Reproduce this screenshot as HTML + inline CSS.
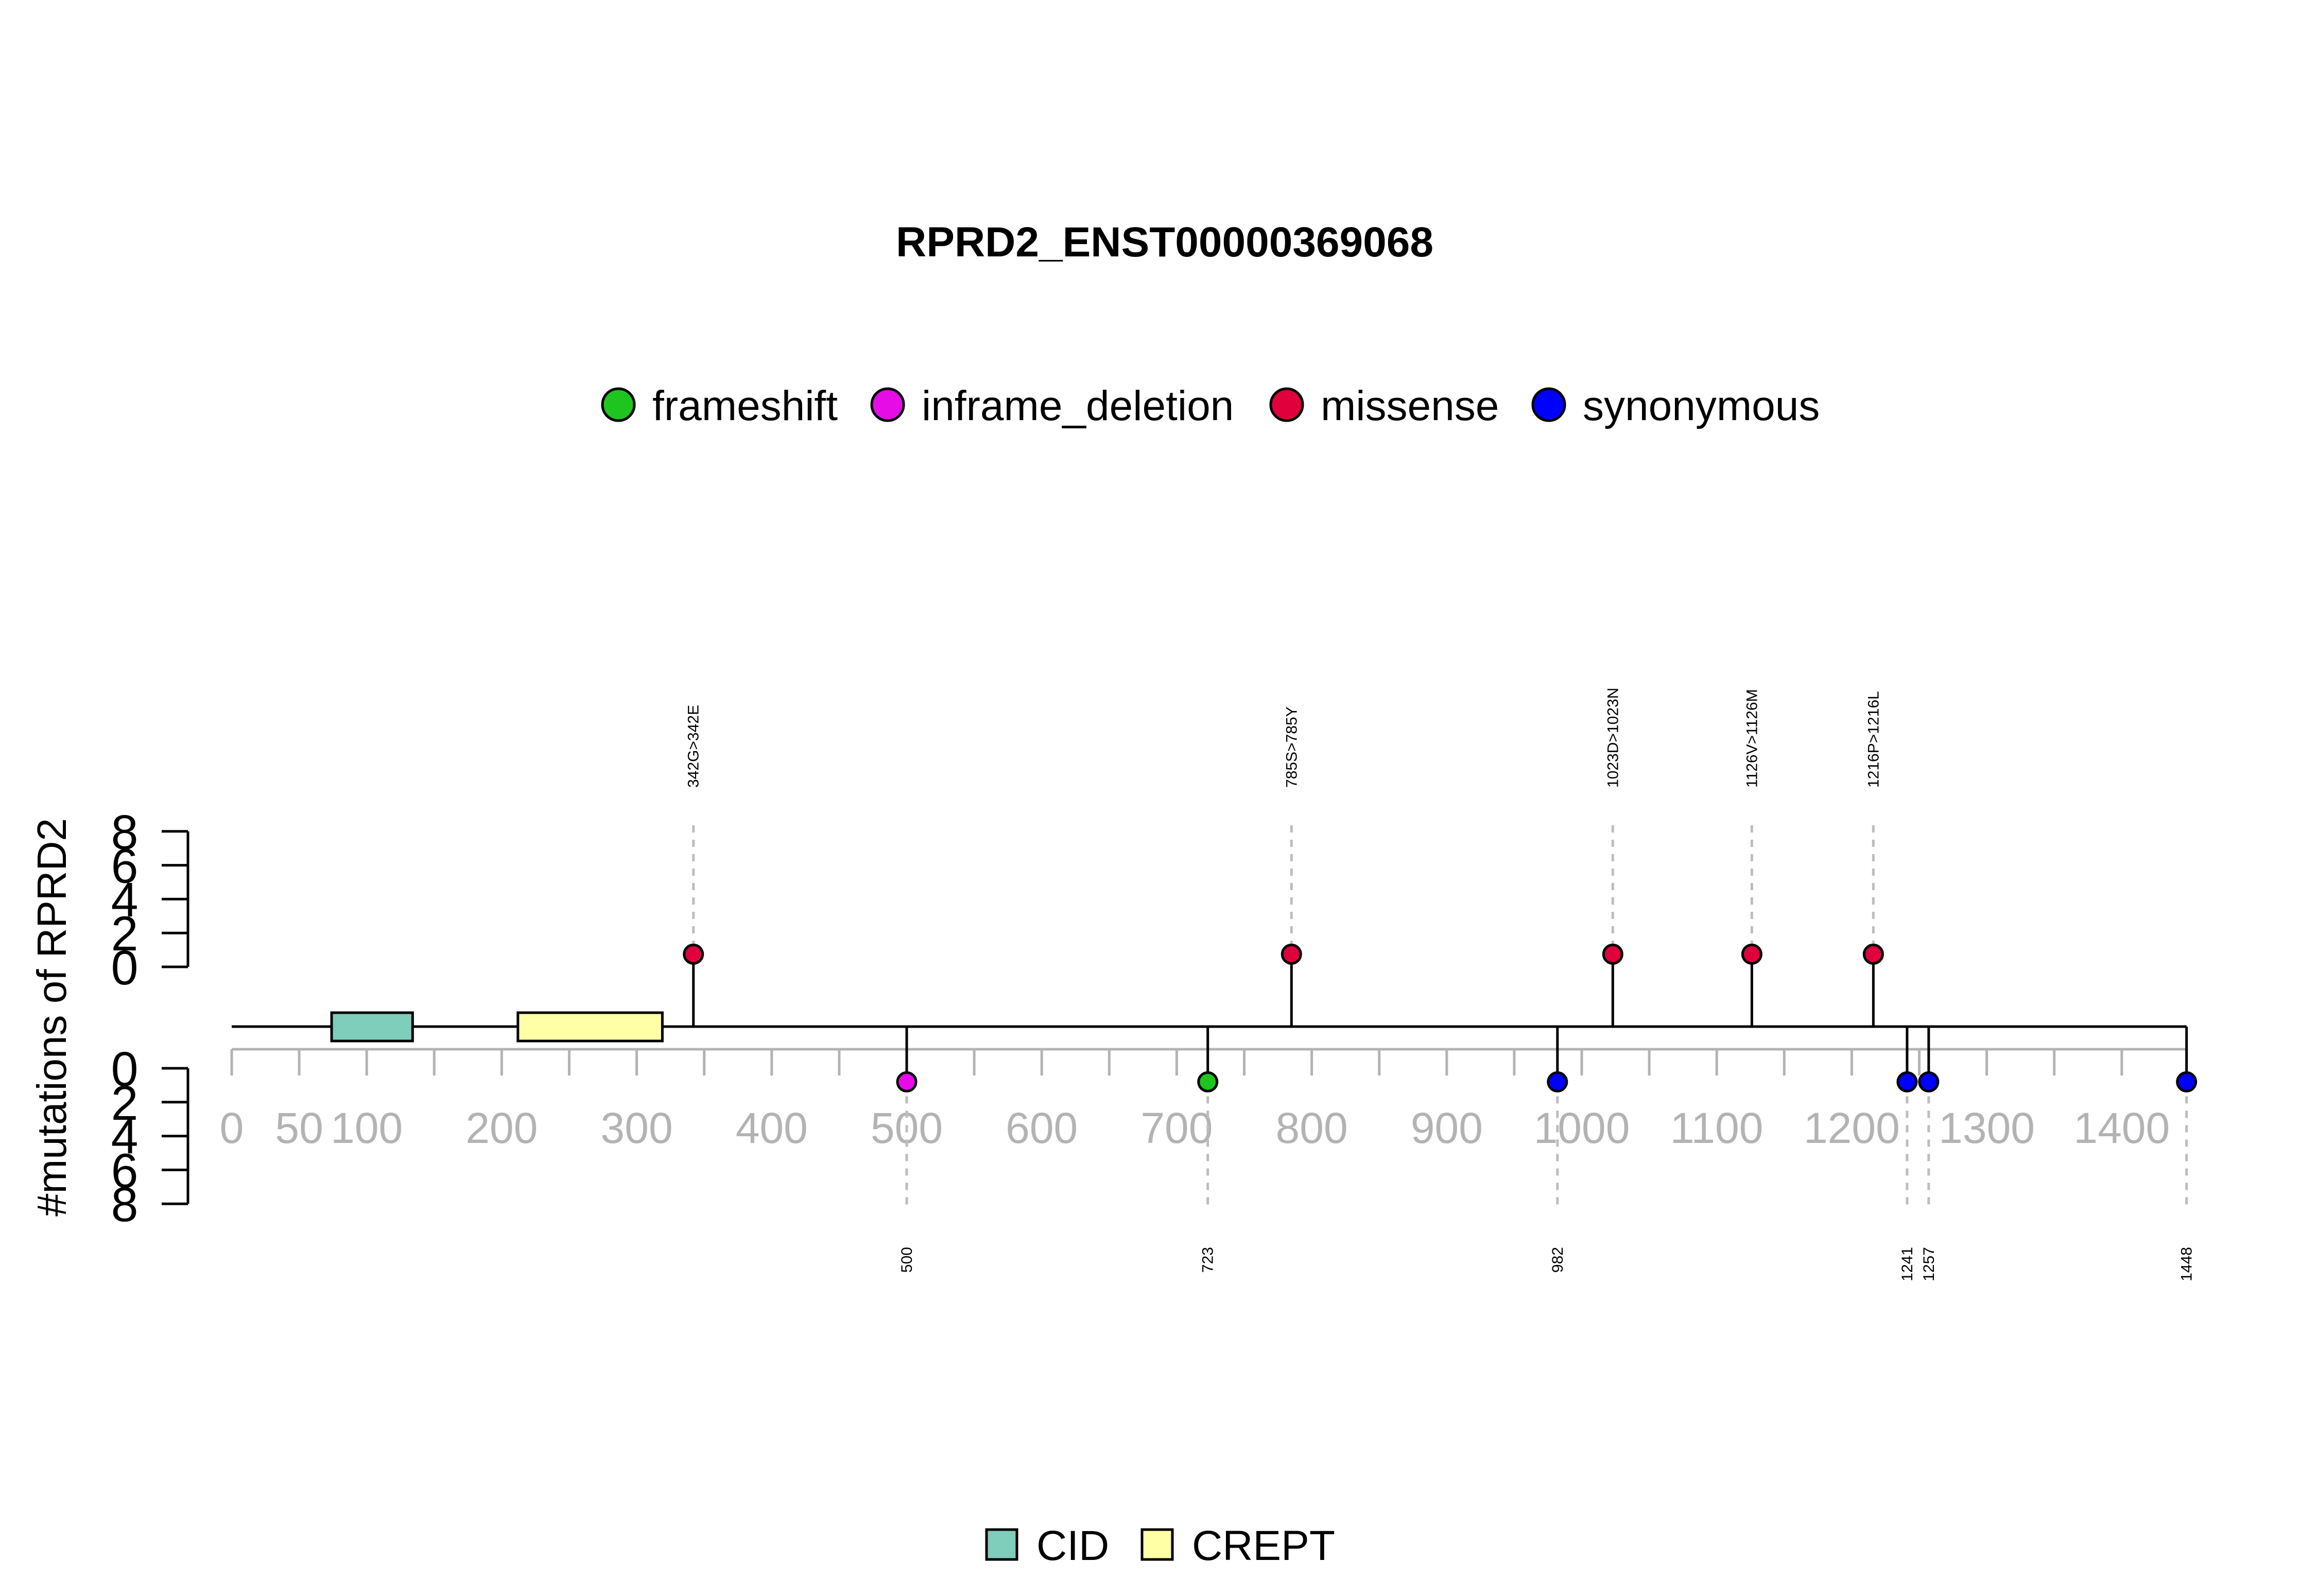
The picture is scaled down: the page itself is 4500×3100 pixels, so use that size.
<!DOCTYPE html>
<html><head><meta charset="utf-8"><style>
html,body{margin:0;padding:0;background:#fff;}
svg{display:block;font-family:"Liberation Sans",Arial,sans-serif;}
</style></head><body>
<svg id="chart" width="4500" height="3100" viewBox="0 0 4500 3100" xmlns="http://www.w3.org/2000/svg">
<rect width="4500" height="3100" fill="#fff"/>
<text x="2262" y="498" font-size="82" font-weight="bold" text-anchor="middle">RPRD2_ENST00000369068</text>
<text x="0" y="0" font-size="80" text-anchor="middle" transform="translate(128,1976) rotate(-90)">#mutations of RPRD2</text>
<g id="legend-top"></g>
<g id="legend-bottom"></g>
<g id="plot"></g>
</svg>
<script>
const positions = [342, 500, 723, 785, 982, 1023, 1126, 1216, 1241, 1257, 1448];
const mutTypes = ["missense","inframe_deletion","frameshift","missense","synonymous","missense","missense","missense","synonymous","synonymous","synonymous"];
const mutCounts = [1,1,1,1,1,1,1,1,1,1,1];
const mutSide = ["up","down","down","up","down","up","up","up","down","down","down"];
const mutLabels = ["342G>342E","500","723","785S>785Y","982","1023D>1023N","1126V>1126M","1216P>1216L","1241","1257","1448"];
const typeNames = ["frameshift","inframe_deletion","missense","synonymous"];
const typeColors = ["#1ec51e","#e60ce6","#e0003c","#0000ff"];
const domainNames = ["CID","CREPT"];
const domainStart = [74, 212];
const domainEnd = [134, 319];
const domainColors = ["#7fcdbb","#ffffa6"];
const proteinLength = 1448;
const xTickValues = [0,50,100,150,200,250,300,350,400,450,500,550,600,650,700,750,800,850,900,950,1000,1050,1100,1150,1200,1250,1300,1350,1400,1448];
const xTickLabels = ["0","50","100","200","300","400","500","600","700","800","900","1000","1100","1200","1300","1400"];
const yTicks = [0,2,4,6,8];

const NS = "http://www.w3.org/2000/svg";
const plot = document.getElementById('plot');
const X0 = 450, PX = 2.622;
const BACK = 1994, UP0 = 1878, LOW0 = 2075, UNIT = 32.9;
function xs(v){ return X0 + v*PX; }
function yUp(v){ return UP0 - v*UNIT*0.75; }
function yLow(v){ return LOW0 + v*UNIT*0.8; }
function yUpAx(v){ return UP0 - v*UNIT; }
function yLowAx(v){ return LOW0 + v*UNIT; }
function mk(tag, attrs, parent){
  const e = document.createElementNS(NS, tag);
  for (const k in attrs) e.setAttribute(k, attrs[k]);
  (parent||plot).appendChild(e);
  return e;
}

let ax = mk('line',{x1:365,x2:365,y1:yUpAx(8),y2:yUpAx(0),stroke:'#000','stroke-width':5});


ax = mk('line',{x1:365,x2:365,y1:yLowAx(0),y2:yLowAx(8),stroke:'#000','stroke-width':5});


yTicks.forEach(t=>{
  [yUpAx(t), yLowAx(t)].forEach((y,i)=>{
    const l = mk('line',{x1:314,x2:365,y1:y,y2:y,stroke:'#000','stroke-width':5});
    
    
    const tx = mk('text',{x:242,y:y+34,'font-size':95,'text-anchor':'middle',fill:'#000'});
    
    
    tx.textContent = String(t);
  });
});

const xa = mk('line',{x1:xs(0),x2:xs(proteinLength),y1:2038,y2:2038,stroke:'#b3b3b3','stroke-width':5});


xTickValues.forEach(v=>{
  const l = mk('line',{x1:xs(v),x2:xs(v),y1:2038,y2:2089,stroke:'#b3b3b3','stroke-width':5});
  
  
});
xTickLabels.forEach(s=>{
  const t = mk('text',{x:xs(+s),y:2220,'font-size':84,'text-anchor':'middle',fill:'#b3b3b3'});
  
  
  t.textContent = s;
});

const bb = mk('line',{x1:xs(0),x2:xs(proteinLength),y1:BACK,y2:BACK,stroke:'#000','stroke-width':5});



domainNames.forEach((n,i)=>{
  const r = mk('rect',{x:xs(domainStart[i]),y:1967,width:xs(domainEnd[i])-xs(domainStart[i]),height:55,fill:domainColors[i],stroke:'#000','stroke-width':5});
  
  
});

positions.forEach((p,i)=>{
  const x = xs(p);
  const col = typeColors[typeNames.indexOf(mutTypes[i])];
  const up = mutSide[i]==='up';
  const hy = up ? yUp(mutCounts[i]) : yLow(mutCounts[i]);
  const d = up ? mk('line',{x1:x,x2:x,y1:1603,y2:hy,stroke:'#bdbdbd','stroke-width':5,'stroke-dasharray':'14 14'})
               : mk('line',{x1:x,x2:x,y1:hy,y2:2347,stroke:'#bdbdbd','stroke-width':5,'stroke-dasharray':'14 14'});
  
  
  const s = mk('line',{x1:x,x2:x,y1:BACK,y2:hy,stroke:'#000','stroke-width':5});
  
  
  const c = mk('circle',{cx:x,cy:hy,r:18,fill:col,stroke:'#000','stroke-width':5});
  
  
  const ly = up ? 1530 : 2422;
  const t = mk('text',{x:0,y:0,'font-size':30,'text-anchor':up?'start':'end',transform:`translate(${x+10},${ly}) rotate(-90)`});
  
  
  t.textContent = mutLabels[i];
});

const lt = document.getElementById('legend-top');
const legCx = [1201,1724,2499,3008];
typeNames.forEach((n,i)=>{
  const c = mk('circle',{cx:legCx[i],cy:786,r:31,fill:typeColors[i],stroke:'#000','stroke-width':5},lt);
  
  
  const t = mk('text',{x:legCx[i]+66,y:816,'font-size':82},lt);
  
  
  t.textContent = n;
});

const lb = document.getElementById('legend-bottom');
const sqX = [1916,2218];
domainNames.forEach((n,i)=>{
  const r = mk('rect',{x:sqX[i],y:2971,width:59,height:58,fill:domainColors[i],stroke:'#000','stroke-width':5},lb);
  
  
  const t = mk('text',{x:sqX[i]+97,y:3030,'font-size':82},lb);
  
  
  t.textContent = n;
});
</script>
</body></html>
